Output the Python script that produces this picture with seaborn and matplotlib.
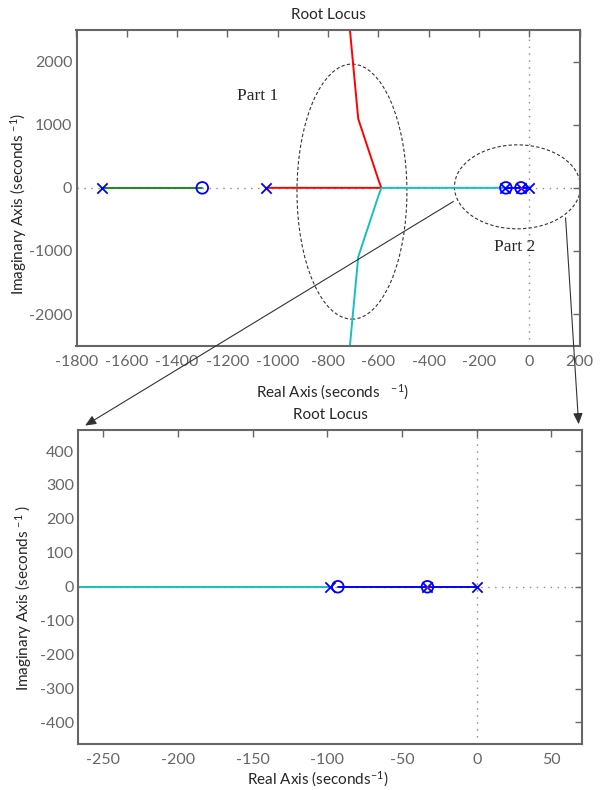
import numpy as np
import pandas as pd
import matplotlib
matplotlib.use("Agg")
import matplotlib.pyplot as plt
import seaborn as sns
from matplotlib.patches import Ellipse, FancyArrowPatch

# ---- data ----
poles_re = [-1700, -1045, -98, -33, 0]
zeros_re = [-1300, -93, -33]
green_re = [-1700, -1300]
green_im = [0, 0]
red_re = [-1045, -588, -600, -680, -713]
red_im = [0, 0, 130, 1093, 2500]
cyan_re = [-98, -588, -600, -680, -713]
cyan_im = [0, 0, -130, -1093, -2500]
blue_re = [0, -93]
blue_im = [0, 0]

branch_colors = {"green": "#1a8c1a", "red": "#ff0000", "cyan": "#16c0c0", "blue": "#0000ff"}

rows = []
for name, xs, ys in [("green", green_re, green_im), ("red", red_re, red_im),
                     ("cyan", cyan_re, cyan_im), ("blue", blue_re, blue_im)]:
    for i, (x, y) in enumerate(zip(xs, ys)):
        rows.append({"branch": name, "re": x, "im": y, "order": i})
df = pd.DataFrame(rows)
poles = pd.DataFrame({"re": poles_re, "im": [0] * len(poles_re)})
zeros = pd.DataFrame({"re": zeros_re, "im": [0] * len(zeros_re)})

sns.set_style("white")
plt.rcParams["font.family"] = ["Lato", "DejaVu Sans"]
plt.rcParams["mathtext.default"] = "regular"
plt.rcParams["axes.unicode_minus"] = False

W, H = 600, 790
fig = plt.figure(figsize=(6, 7.9), dpi=100)

def fr(l, t, r, b):
    return [l / W, 1 - b / H, (r - l) / W, (b - t) / H]

ax1 = fig.add_axes(fr(76.5, 30, 579.6, 345.7))
ax2 = fig.add_axes(fr(78, 430, 582, 743.5))

def draw(ax):
    ax.axhline(0, color="#8a8a8a", ls=(0, (1, 4)), lw=1, zorder=0)
    ax.axvline(0, color="#8a8a8a", ls=(0, (1, 4)), lw=1, zorder=0)
    sns.lineplot(data=df, x="re", y="im", hue="branch", palette=branch_colors,
                 sort=False, estimator=None, units="branch", legend=False,
                 lw=1.4, ax=ax, zorder=2)
    sns.scatterplot(data=poles, x="re", y="im", marker="x", color="#0000ff",
                    s=55, linewidth=1.3, ax=ax, zorder=3, legend=False)
    sns.scatterplot(data=zeros, x="re", y="im", marker="o", facecolor="none",
                    edgecolor="#0000ff", s=70, linewidth=1.3, ax=ax, zorder=3,
                    legend=False)
    ax.plot([-33], [0], marker="o", ms=1.8, mew=0, color="#e01090", zorder=4)
    for s in ax.spines.values():
        s.set_visible(True)
        s.set_color("#666666")
        s.set_linewidth(1.5)
    ax.tick_params(direction="in", length=5, width=1, color="#666666",
                   top=True, right=True, labelsize=11.5, labelcolor="#666666")
    ax.tick_params(axis="x", pad=7)
    ax.tick_params(axis="y", pad=3)

draw(ax1)
ax1.set_xlim(-1800, 200)
ax1.set_ylim(-2500, 2500)
ax1.set_xticks(np.arange(-1800, 201, 200))
ax1.set_yticks([-2000, -1000, 0, 1000, 2000])
ax1.set_title("Root Locus", fontsize=11, pad=8)
ax1.set_xlabel(r"Real Axis (seconds   $^{-1}$)", fontsize=11)
ax1.set_ylabel(r"Imaginary Axis (seconds $^{-1}$)", fontsize=11)
ax1.xaxis.set_label_coords(0.509, -0.118)
ax1.yaxis.set_label_coords(-0.095, 0.45)

ax1.add_patch(Ellipse((-705, -60), 437, 4040, fill=False, ls=(0, (3, 2)),
                      lw=0.8, ec="#333333", clip_on=False, zorder=1))
ax1.add_patch(Ellipse((-47, 16), 501, 1330, fill=False, ls=(0, (3, 2)),
                      lw=0.8, ec="#333333", clip_on=False, zorder=1))
ax1.text(-1080, 1450, "Part 1", family="Liberation Serif", fontsize=12.5,
         ha="center", va="center")
ax1.text(-60, -934, "Part 2", family="Liberation Serif", fontsize=12.5,
         ha="center", va="center")

draw(ax2)
ax2.set_xlim(-267, 70.5)
ax2.set_ylim(-462, 462)
ax2.set_xticks(np.arange(-250, 51, 50))
ax2.set_yticks(np.arange(-400, 401, 100))
ax2.set_title("Root Locus", fontsize=11, pad=8)
ax2.set_xlabel(r"Real Axis (seconds$^{-1}$)", fontsize=11)
ax2.set_ylabel(r"Imaginary Axis (seconds $^{-1}$ )", fontsize=11)
ax2.xaxis.set_label_coords(0.476, -0.084)
ax2.yaxis.set_label_coords(-0.088, 0.463)

def fp(x, y):
    return (x / W, 1 - y / H)

for start, end in [((455.8, 200), (82.7, 427)), ((565.4, 215), (578.8, 427))]:
    fig.add_artist(FancyArrowPatch(
        fp(*start), fp(*end), transform=fig.transFigure,
        arrowstyle="-|>,head_length=3,head_width=1.3", color="#333333",
        lw=0.8, mutation_scale=2.2))

fig.savefig("out.png", dpi=100)
